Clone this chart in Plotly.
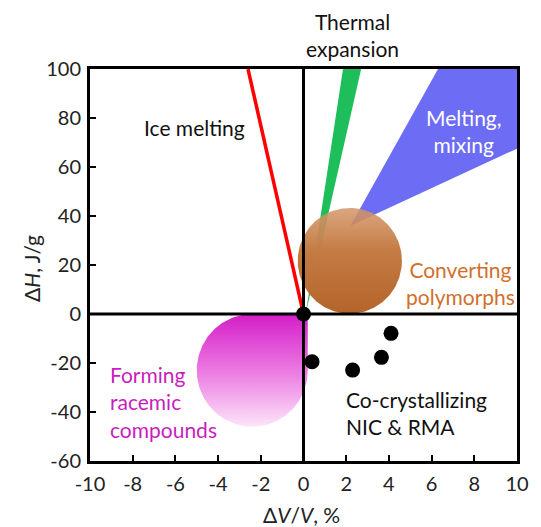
import numpy as np
import plotly.graph_objects as go

# ---- data ----
dot_x = [0.0, 0.4, 2.3, 3.65, 4.1]
dot_y = [0.0, -19.5, -22.9, -17.7, -7.9]

ice_line_x = [0.0, -2.6]
ice_line_y = [0.0, 100.0]

thermal_x = [0.1, 1.85, 2.7]
thermal_y = [0.0, 100.0, 100.0]

melt_x = [2.2, 6.3, 10.0, 10.0]
melt_y = [36.0, 100.0, 100.0, 67.5]

# converting polymorphs circle (center, radii in data units)
poly_c = (2.17, 21.7)
poly_r = (2.44, 21.6)

# racemic compound region (circle with squared top-right quadrant)
rac_c = (-2.4, -23.0)
rac_r = (2.6, 23.0)

x_ticks = list(range(-10, 11, 2))
y_ticks = list(range(-60, 101, 20))
x_tick_text = [str(v) for v in x_ticks]
y_tick_text = [str(v) for v in y_ticks]

FONT = "Lato"

t = np.linspace(0, 2 * np.pi, 200)
circ_x = poly_c[0] + poly_r[0] * np.cos(t)
circ_y = poly_c[1] + poly_r[1] * np.sin(t)

a = np.linspace(np.pi / 2, 2 * np.pi, 200)
rac_x = list(rac_c[0] + rac_r[0] * np.cos(a)) + [rac_c[0] + rac_r[0]]
rac_y = list(rac_c[1] + rac_r[1] * np.sin(a)) + [rac_c[1] + rac_r[1]]

fig = go.Figure()

fig.add_trace(go.Scatter(x=ice_line_x, y=ice_line_y, mode="lines",
                         line=dict(color="#ff0000", width=3.5), hoverinfo="skip"))
fig.add_trace(go.Scatter(x=thermal_x, y=thermal_y, mode="lines", fill="toself",
                         fillcolor="rgb(30,190,90)", line=dict(width=0), hoverinfo="skip"))
fig.add_trace(go.Scatter(x=melt_x, y=melt_y, mode="lines", fill="toself",
                         fillcolor="rgb(108,108,245)", line=dict(width=0), hoverinfo="skip"))
fig.add_trace(go.Scatter(x=circ_x, y=circ_y, mode="lines", fill="toself",
                         line=dict(width=0), hoverinfo="skip",
                         fillgradient=dict(type="vertical",
                                           colorscale=[[0, "rgba(180,100,42,1)"],
                                                       [0.6, "rgba(196,124,68,1)"],
                                                       [1, "rgba(212,150,105,0.85)"]])))
fig.add_trace(go.Scatter(x=rac_x, y=rac_y, mode="lines", fill="toself",
                         line=dict(width=0), hoverinfo="skip",
                         fillgradient=dict(type="vertical",
                                           colorscale=[[0, "rgb(252,228,250)"],
                                                       [0.5, "rgb(235,120,225)"],
                                                       [1, "rgb(212,30,200)"]])))

# zero axes drawn above fills
fig.add_shape(type="line", x0=0, x1=0, y0=-60, y1=100, xref="x", yref="y",
              line=dict(color="black", width=3), layer="above")
fig.add_shape(type="line", x0=-10, x1=10, y0=0, y1=0, xref="x", yref="y",
              line=dict(color="black", width=3), layer="above")

fig.add_trace(go.Scatter(x=dot_x, y=dot_y, mode="markers",
                         marker=dict(color="black", size=15), hoverinfo="skip"))

FS = 21
ann_font = dict(family=FONT, size=FS, color="#111111")
fig.add_annotation(xref="paper", yref="paper", x=(357 - 90) / 434, y=(461 - 35) / 392,
                   text="Thermal<br>expansion", showarrow=False,
                   font=ann_font, align="center", xanchor="center", yanchor="middle")
fig.add_annotation(x=-5.1, y=76, text="Ice melting", showarrow=False, font=ann_font)
fig.add_annotation(x=7.5, y=74.7, text="Melting,<br>mixing", showarrow=False,
                   font=dict(family=FONT, size=FS, color="white"), align="center")
fig.add_annotation(x=7.35, y=12.6, text="Converting<br>polymorphs", showarrow=False,
                   font=dict(family=FONT, size=FS, color="rgb(208,112,44)"), align="center")
fig.add_annotation(x=-9.17, y=-35.8, text="Forming<br>racemic<br>compounds", showarrow=False,
                   font=dict(family=FONT, size=FS, color="rgb(200,30,190)"),
                   align="left", xanchor="left")
fig.add_annotation(x=1.89, y=-40.6, text="Co-crystallizing<br>NIC &amp; RMA", showarrow=False,
                   font=ann_font, align="left", xanchor="left")

# axis titles
fig.add_annotation(xref="paper", yref="paper", x=(305 - 90) / 434, y=(461 - 514) / 392,
                   text="Δ<i>V</i>/<i>V</i>, %", showarrow=False,
                   xanchor="center", yanchor="middle",
                   font=dict(family=FONT, size=21, color="#222"))
fig.add_annotation(xref="paper", yref="paper", x=(30 - 90) / 434, y=(461 - 268) / 392,
                   text="Δ<i>H</i>, J/g", showarrow=False, textangle=-90,
                   xanchor="center", yanchor="middle",
                   font=dict(family=FONT, size=21, color="#222"))

axis_common = dict(showgrid=False, zeroline=False, showline=True, mirror=True,
                   linecolor="black", linewidth=3, ticks="inside", ticklen=6,
                   tickwidth=2, tickcolor="black",
                   tickfont=dict(family=FONT, size=20, color="#222"))
fig.update_xaxes(range=[-10, 10], tickvals=x_ticks, ticktext=x_tick_text,
                 ticklabelstandoff=3, **axis_common)
fig.update_yaxes(range=[-60, 100], tickvals=y_ticks, ticktext=y_tick_text,
                 ticklabelstandoff=2, **axis_common)

fig.update_layout(width=541, height=527, showlegend=False,
                  margin=dict(l=90, r=17, t=69, b=66),
                  plot_bgcolor="white", paper_bgcolor="white")

fig.write_html("out.html")
